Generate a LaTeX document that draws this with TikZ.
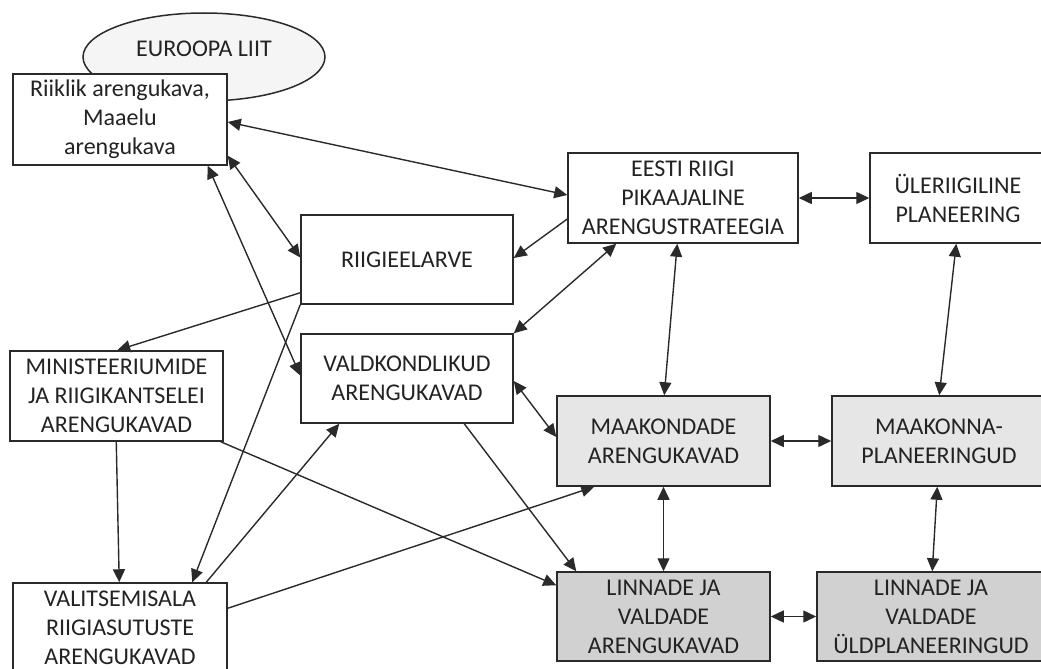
\documentclass[tikz,border=0pt]{standalone}
\usepackage{fontspec}
\setmainfont{Carlito}
\usetikzlibrary{arrows.meta,calc,shapes.geometric}
\definecolor{txt}{HTML}{232323}
\definecolor{edge}{HTML}{2A2A2A}
\definecolor{lightfill}{HTML}{E6E6E6}
\definecolor{midfill}{HTML}{D2D1D2}
\definecolor{ovalfill}{HTML}{F5F5F5}
\begin{document}
\begin{tikzpicture}[x=1pt,y=-1pt,
  box/.style={draw=edge,line width=1.5pt,fill=white,inner sep=0pt,
    align=center,text=txt,font=\fontsize{24}{29}\selectfont},
  oval/.style={ellipse,draw=edge,line width=1.5pt,fill=ovalfill,inner sep=0pt,
    text=txt,font=\fontsize{24}{29}\selectfont},
  link/.style={draw=edge,line width=1.4pt,-{Triangle[length=13pt,width=12pt]}},
  both/.style={link,{Triangle[length=13pt,width=12pt]}-{Triangle[length=13pt,width=12pt]}}]
\useasboundingbox (0,0) rectangle (1041,669);
\clip (0,0) rectangle (1041,669);

% oval behind the first box
\node[oval,minimum width=242pt,minimum height=88pt] (eu) at (204,57) {};
\node[text=txt,font=\fontsize{24}{29}\selectfont] (eutext) at (204,49) {EUROOPA LIIT};

% boxes
\node[box,minimum width=214pt,minimum height=91pt] (riik) at (120,119.5)
  {Riiklik arengukava,\\Maaelu\\arengukava};
\node[box,minimum width=230pt,minimum height=90pt] (eesti) at (683,198)
  {EESTI RIIGI\\PIKAAJALINE\\ARENGUSTRATEEGIA};
\node[box,minimum width=176pt,minimum height=90pt] (uler) at (958,198)
  {ÜLERIIGILINE\\PLANEERING};
\node[box,minimum width=212pt,minimum height=89pt] (eelarve) at (407,259.5)
  {RIIGIEELARVE};
\node[box,minimum width=212pt,minimum height=89pt] (vald) at (407,378.5)
  {VALDKONDLIKUD\\ARENGUKAVAD};
\node[box,minimum width=213pt,minimum height=90pt] (min) at (116.5,396)
  {MINISTEERIUMIDE\\JA RIIGIKANTSELEI\\ARENGUKAVAD};
\node[box,minimum width=214pt,minimum height=90pt] (valits) at (120,628)
  {VALITSEMISALA\\RIIGIASUTUSTE\\ARENGUKAVAD};
\node[box,fill=lightfill,minimum width=213pt,minimum height=90pt] (maak) at (663.5,441)
  {MAAKONDADE\\ARENGUKAVAD};
\node[box,fill=lightfill,minimum width=214pt,minimum height=90pt] (maakpl) at (939,441)
  {MAAKONNA-\\PLANEERINGUD};
\node[box,fill=midfill,minimum width=213pt,minimum height=89pt] (linn) at (663.5,616.5)
  {LINNADE JA\\VALDADE\\ARENGUKAVAD};
\node[box,fill=midfill,minimum width=228pt,minimum height=89pt] (linnyld) at (931,616.5)
  {LINNADE JA\\VALDADE\\ÜLDPLANEERINGUD};

% connectors
\draw[both] ($(riik.east)+(0,2.5)$) -- ($(eesti.west)+(0,-3)$);
\draw[both] ($(riik.south east)+(0,-10)$) -- ($(eelarve.west)+(0,-2)$);
\draw[both] ($(riik.south east)+(-20,0)$) -- ($(vald.west)+(0,-3)$);
\draw[link] ($(eesti.west)+(0,21)$) -- ($(eelarve.east)+(0,-1.5)$);
\draw[both] ($(eesti.south west)+(49,0)$) -- (vald.north east);
\draw[both] (eesti.east) -- (uler.west);
\draw[both] ($(eesti.south west)+(110,0)$) -- ($(maak.north west)+(108,0)$);
\draw[both] ($(uler.south west)+(87,0)$) -- ($(maakpl.north west)+(108,0)$);
\draw[link] ($(eelarve.south west)+(0,-12)$) -- ($(min.north west)+(108,0)$);
\draw[link] (eelarve.south west) -- ($(valits.north west)+(180,0)$);
\draw[link] ($(valits.north west)+(194,0)$) -- ($(vald.south west)+(39,0)$);
\draw[link] ($(min.south west)+(107,0)$) -- ($(valits.north west)+(107,0)$);
\draw[link] ($(min.south east)+(-3,0)$) -- ($(linn.north west)+(0,14)$);
\draw[link] ($(valits.north east)+(0,26)$) -- ($(maak.south west)+(38,0)$);
\draw[both] ($(vald.east)+(0,2.5)$) -- ($(maak.west)+(0,-4)$);
\draw[link] ($(vald.south west)+(164,0)$) -- ($(linn.north west)+(20,0)$);
\draw[both] (maak.east) -- (maakpl.west);
\draw[both] (maak.south) -- (linn.north);
\draw[both] ($(maakpl.south west)+(106,0)$) -- ($(linnyld.north west)+(116,0)$);
\draw[both] (linn.east) -- (linnyld.west);
\end{tikzpicture}
\end{document}
